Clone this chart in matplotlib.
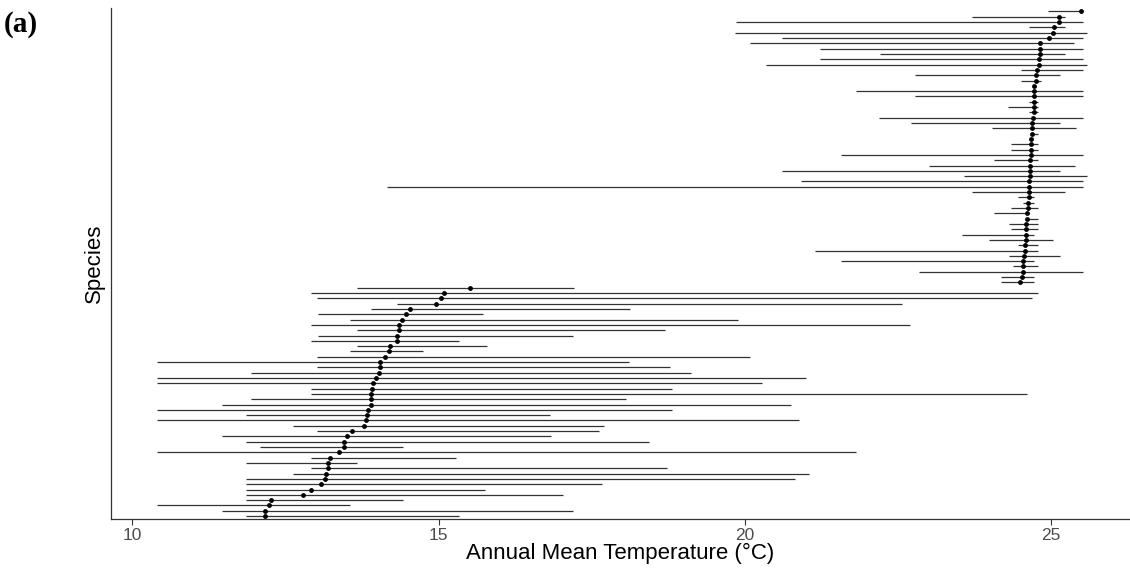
import matplotlib
matplotlib.use("Agg")
import matplotlib.pyplot as plt
import numpy as np

# Species listed from top of the chart to bottom
mean_temp = [25.48, 25.13, 25.12, 25.04, 25.03, 24.97, 24.81, 24.81, 24.81, 24.80,
             24.80, 24.77, 24.75, 24.75, 24.72, 24.72, 24.72, 24.71, 24.71, 24.71,
             24.70, 24.69, 24.69, 24.68, 24.67, 24.67, 24.67, 24.67, 24.66, 24.66,
             24.65, 24.65, 24.64, 24.64, 24.63, 24.63, 24.62, 24.62, 24.61, 24.60,
             24.59, 24.59, 24.58, 24.58, 24.57, 24.57, 24.56, 24.54, 24.53, 24.53,
             24.52, 24.49,
             15.52, 15.08, 15.04, 14.95, 14.54, 14.46, 14.41, 14.35, 14.35, 14.32,
             14.32, 14.20, 14.19, 14.13, 14.05, 14.04, 14.03, 13.98, 13.93, 13.91,
             13.89, 13.89, 13.89, 13.85, 13.83, 13.82, 13.79, 13.58, 13.51, 13.45,
             13.45, 13.38, 13.22, 13.20, 13.20, 13.17, 13.15, 13.08, 12.91, 12.79,
             12.27, 12.23, 12.17, 12.17]

min_temp = [24.95, 23.70, 19.86, 24.64, 19.84, 20.60, 20.09, 21.23, 22.20, 21.23,
            20.35, 24.50, 22.77, 24.50, 24.70, 21.81, 22.77, 24.63, 24.30, 24.63,
            22.18, 22.71, 24.04, 24.65, 24.64, 24.35, 24.35, 21.56, 24.07, 23.01,
            20.60, 23.57, 20.91, 14.15, 23.70, 24.45, 24.53, 24.35, 24.06, 24.58,
            24.31, 24.35, 23.55, 23.98, 24.45, 21.14, 24.31, 21.56, 24.38, 22.84,
            24.18, 24.18,
            13.67, 12.92, 13.01, 14.32, 13.89, 13.03, 13.55, 12.92, 13.67, 13.03,
            12.92, 13.67, 13.55, 13.01, 10.41, 13.01, 11.93, 10.41, 10.41, 12.92,
            12.92, 11.93, 11.47, 10.41, 11.85, 10.41, 12.63, 13.01, 11.47, 11.85,
            12.09, 10.41, 12.92, 11.85, 12.92, 12.63, 11.85, 11.85, 11.85, 11.85,
            11.85, 10.41, 11.47, 11.85]

max_temp = [25.48, 25.22, 25.51, 25.22, 25.59, 25.51, 25.37, 25.51, 25.22, 25.51,
            25.59, 25.51, 25.14, 24.83, 24.75, 25.51, 25.51, 24.79, 24.79, 24.79,
            25.51, 25.14, 25.40, 24.79, 24.70, 24.79, 24.79, 25.51, 24.79, 25.39,
            25.14, 25.59, 25.51, 25.51, 25.22, 24.72, 24.72, 24.79, 24.64, 24.79,
            24.79, 24.79, 24.72, 25.03, 24.79, 24.79, 25.14, 24.72, 24.79, 25.51,
            24.72, 24.72,
            17.21, 24.79, 24.69, 22.57, 18.13, 15.72, 19.89, 22.70, 18.69, 17.20,
            15.33, 15.79, 14.75, 20.08, 18.10, 18.77, 19.12, 20.99, 20.28, 18.81,
            24.60, 18.06, 20.75, 18.81, 16.82, 20.88, 17.70, 17.61, 16.83, 18.44,
            14.42, 21.82, 15.29, 13.67, 18.73, 21.04, 20.82, 17.66, 15.75, 17.03,
            14.42, 13.55, 17.20, 15.33]

x_ticks = [10, 15, 20, 25]
x_label = "Annual Mean Temperature (°C)"
y_label = "Species"
panel_tag = "(a)"

n = len(mean_temp)
ypos = np.arange(n)[::-1]

fig = plt.figure(figsize=(11.3, 5.68), dpi=100)
ax = fig.add_axes([111 / 1130, 1 - 519.3 / 568, 1 - 111 / 1130 - 0.001, (519.3 - 8.3) / 568])

ax.hlines(ypos, min_temp, max_temp, color="#333333", linewidth=0.9, zorder=2)
ax.plot(mean_temp, ypos, "o", color="black", markersize=3.5, markeredgewidth=0, zorder=3)

ax.set_xlim(9.653, 26.266)
ax.set_ylim(-0.6, n - 1 + 0.6)
ax.set_xticks(x_ticks)
ax.set_yticks([])

font = ["Liberation Sans", "DejaVu Sans"]
ax.set_xticklabels([str(t) for t in x_ticks], fontsize=12.5, color="#4D4D4D", family=font)
ax.tick_params(axis="x", length=4, width=0.8, color="#333333", pad=2)
ax.set_xlabel(x_label, fontsize=16, family=font, labelpad=0)
ax.set_ylabel(y_label, fontsize=16, family=font, labelpad=4)

for side in ["top", "right"]:
    ax.spines[side].set_visible(False)
for side in ["left", "bottom"]:
    ax.spines[side].set_linewidth(0.9)
    ax.spines[side].set_color("#333333")

fig.text(4 / 1130, 1 - 24 / 568, panel_tag, fontsize=21, fontweight="bold",
         family=["Liberation Serif", "DejaVu Serif"], va="center", ha="left")

fig.savefig("out.png", dpi=100)
